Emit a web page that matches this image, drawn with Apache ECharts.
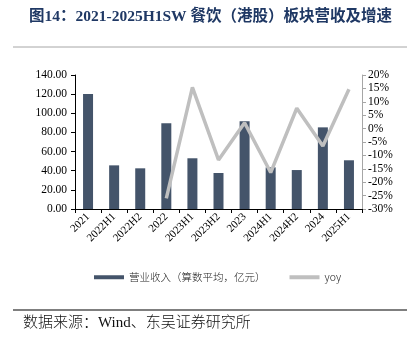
<!DOCTYPE html>
<html>
<head>
<meta charset="utf-8">
<script src="https://cdn.jsdelivr.net/npm/echarts@6/dist/echarts.min.js"></script>
<style>
  html, body { margin: 0; padding: 0; background: #fff; }
  #chart { width: 412px; height: 342px; }
</style>
</head>
<body>
<div id="chart"></div>
<script>
// Period labels on the category axis
const categories = ['2021', '2022H1', '2022H2', '2022', '2023H1', '2023H2', '2023', '2024H1', '2024H2', '2024', '2025H1'];
// Revenue, arithmetic mean (100 million CNY)
const revenue = [120.2, 45.6, 42.5, 89.5, 53.0, 37.6, 91.6, 43.5, 40.7, 85.3, 50.9];
// Year-over-year growth (%)
const yoy = [null, null, null, -26.0, 15.4, -11.7, 2.2, -16.4, 7.6, -6.5, 14.7];

const serif = '"Liberation Serif", "Times New Roman", "Noto Sans CJK SC", serif';
const cjk = '"Noto Sans CJK SC", sans-serif';

const chart = echarts.init(document.getElementById('chart'));
chart.setOption({
  backgroundColor: '#fff',
  animation: false,
  title: {
    text: '图14：2021-2025H1SW 餐饮（港股）板块营收及增速',
    left: 24, top: 4,
    textStyle: { fontFamily: serif, fontWeight: 'bold', fontSize: 15.5, color: '#1f3864' }
  },
  graphic: [
    { type: 'line', shape: { x1: 13, y1: 47, x2: 407, y2: 47 }, style: { stroke: '#a6a6a6', lineWidth: 1 } },
    { type: 'line', shape: { x1: 13, y1: 310, x2: 407, y2: 310 }, style: { stroke: '#000', lineWidth: 1.2 } },
    { type: 'text', left: 23, top: 316, style: { text: '数据来源：Wind、东吴证券研究所', font: '300 15px ' + serif, fill: '#111' } }
  ],
  legend: {
    top: 267, left: 89,
    itemGap: 24,
    itemWidth: 30, itemHeight: 4,
    textStyle: { fontFamily: cjk, fontSize: 10.5, color: '#222', fontWeight: 300 },
    data: [
      { name: '营业收入（算数平均，亿元）', icon: 'rect' },
      { name: 'yoy', icon: 'rect', itemStyle: { color: '#bfbfbf' } }
    ]
  },
  grid: { left: 75, right: 50, top: 75, bottom: 133 },
  xAxis: {
    type: 'category',
    data: categories,
    axisLine: { lineStyle: { color: '#000', width: 1 } },
    axisTick: { show: true, length: 4, lineStyle: { color: '#000' } },
    axisLabel: { rotate: 45, fontFamily: serif, fontSize: 11, color: '#000', margin: 6 }
  },
  yAxis: [
    {
      type: 'value', min: 0, max: 140, interval: 20,
      splitLine: { show: false },
      axisLine: { show: true, lineStyle: { color: '#000' } },
      axisTick: { show: true, length: 4, lineStyle: { color: '#000' } },
      axisLabel: { formatter: v => v.toFixed(2), fontFamily: serif, fontSize: 11.5, color: '#000', margin: 8 }
    },
    {
      type: 'value', min: -30, max: 20, interval: 5,
      splitLine: { show: false },
      axisLine: { show: true, lineStyle: { color: '#a6a6a6' } },
      axisTick: { show: true, length: 4, inside: false, lineStyle: { color: '#a6a6a6' } },
      axisLabel: { formatter: v => v + '%', fontFamily: serif, fontSize: 11.5, color: '#000', margin: 6 }
    }
  ],
  series: [
    {
      name: '营业收入（算数平均，亿元）',
      type: 'bar',
      data: revenue,
      barWidth: 10,
      itemStyle: { color: '#44546a' }
    },
    {
      name: 'yoy',
      type: 'line',
      yAxisIndex: 1,
      data: yoy,
      symbol: 'none',
      lineStyle: { color: '#bfbfbf', width: 3.5 },
      itemStyle: { color: '#bfbfbf' }
    }
  ]
});
</script>
</body>
</html>
